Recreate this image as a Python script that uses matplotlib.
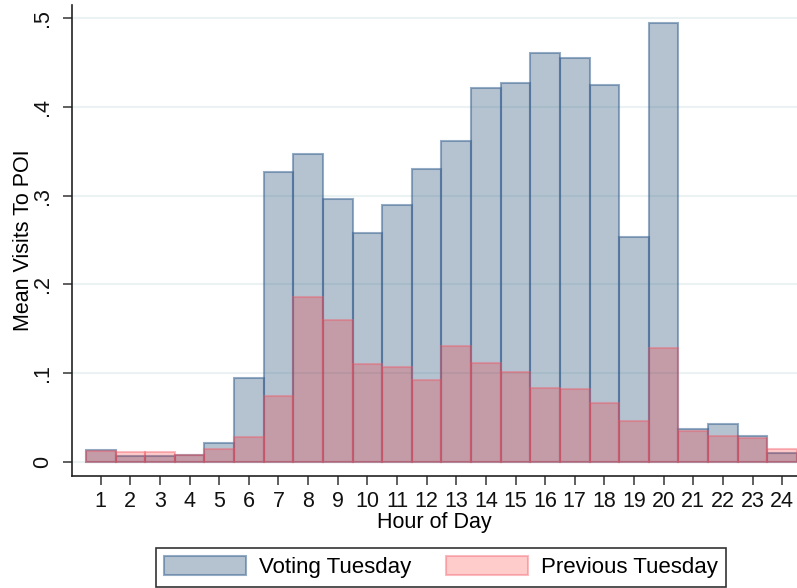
import matplotlib.pyplot as plt
import numpy as np

plt.rcParams['font.family'] = ['Liberation Sans', 'DejaVu Sans']

hours = list(range(1, 25))
voting = [0.013, 0.007, 0.007, 0.008, 0.021, 0.094, 0.327, 0.347, 0.296, 0.258,
          0.289, 0.330, 0.361, 0.421, 0.427, 0.461, 0.455, 0.424, 0.253, 0.494,
          0.037, 0.043, 0.029, 0.010]
previous = [0.012, 0.011, 0.011, 0.008, 0.015, 0.028, 0.074, 0.186, 0.160, 0.110,
            0.107, 0.092, 0.131, 0.111, 0.101, 0.083, 0.082, 0.066, 0.046, 0.128,
            0.035, 0.029, 0.027, 0.015]
yticks = [0, 0.1, 0.2, 0.3, 0.4, 0.5]
ytick_labels = ["0", ".1", ".2", ".3", ".4", ".5"]

fs = 15.5

fig = plt.figure(figsize=(7.97, 5.88), dpi=100)
ax = fig.add_axes([72 / 797, 1 - 476 / 588, 1 - 72 / 797, (476 - 5) / 588])

for y in yticks:
    ax.axhline(y, color="#eaf2f3", lw=1.5, zorder=0)

ax.bar(hours, voting, width=1.0, color=(0.10, 0.28, 0.44, 0.32),
       edgecolor=(0.25, 0.40, 0.58, 0.55), linewidth=1.5, label="Voting Tuesday", zorder=2)
ax.bar(hours, previous, width=1.0, color=(1.0, 0.0, 0.0, 0.2),
       edgecolor=(0.95, 0.35, 0.40, 0.4), linewidth=1.5, label="Previous Tuesday", zorder=3)

ax.set_xlim(0.031, 24.5)
ax.set_ylim(-0.0158, 0.5146)
ax.set_xticks(hours)
ax.set_xticklabels([str(h) for h in hours])
ax.set_yticks(yticks)
ax.set_yticklabels(ytick_labels, rotation=90, va="center")

ax.spines["top"].set_visible(False)
ax.spines["right"].set_visible(False)
for s in ["left", "bottom"]:
    ax.spines[s].set_linewidth(1.2)
    ax.spines[s].set_color("#222222")
ax.tick_params(axis="both", labelsize=fs, length=6.5, width=1.2, color="#444444", colors="#111111")
ax.tick_params(axis="x", pad=4)
ax.tick_params(axis="y", pad=7)

ax.set_xlabel("Hour of Day", fontsize=fs, labelpad=0)
ax.set_ylabel("Mean Visits To POI", fontsize=fs, labelpad=-1)

leg = fig.legend(loc="lower center", bbox_to_anchor=(441 / 797, 0.0), ncol=2,
                 fontsize=16, frameon=True, fancybox=False, edgecolor="black",
                 handlelength=3.7, handleheight=0.95, columnspacing=1.55,
                 handletextpad=0.58, borderpad=0.38, borderaxespad=0.05)
leg.get_frame().set_linewidth(1.2)

fig.savefig("out.png", dpi=100)
